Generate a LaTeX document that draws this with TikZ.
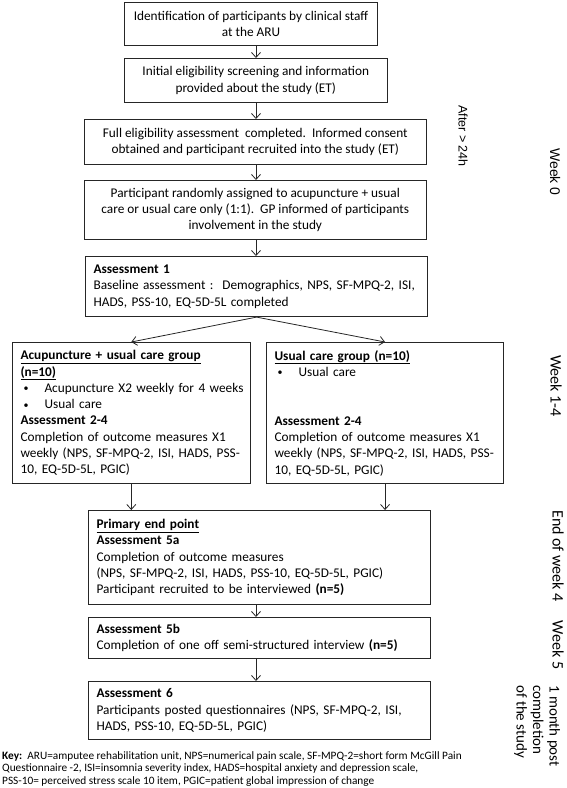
\documentclass[tikz,border=0pt]{standalone}
\usepackage{fontspec}
\setmainfont{Carlito}
\newfontfamily\arialf{Liberation Sans}
\usetikzlibrary{arrows.meta}
\newcommand\bul{\makebox[24pt][l]{\hspace{3pt}\raisebox{0.5pt}{\fontsize{10}{10}\selectfont •}}}
\begin{document}
\begin{tikzpicture}[x=1pt,y=-1pt,
  box/.style={draw=black!85, line width=1.1pt, inner xsep=8pt, inner ysep=2pt,
    anchor=north west, font=\fontsize{13.3}{16.3}\selectfont},
  cbox/.style={box, align=center},
  lbox/.style={box, align=left},
  arr/.style={-{Straight Barb[length=5pt,width=9pt]}, line width=0.8pt, black!85},
  side/.style={rotate=-90, font=\fontsize{16}{16.5}\selectfont, inner sep=0pt},
  sidea/.style={rotate=-90, font=\arialf\fontsize{14}{16}\selectfont, inner sep=0pt},
]
\useasboundingbox (0,0) rectangle (567,788);
\coordinate (cx) at (256,0);

\node[cbox, minimum width=253pt, minimum height=43pt] (b1) at (124,2)
  {Identification of participants by clinical staff\\at the ARU};
\node[cbox, minimum width=262.5pt, minimum height=44pt] (b2) at (124,58)
  {Initial eligibility screening and information\\provided about the study (ET)};
\node[cbox, minimum width=341.5pt, minimum height=45pt] (b3) at (84,119)
  {Full eligibility assessment\ \ completed.\ \ Informed consent\\obtained and participant recruited into the study (ET)};
\node[cbox, minimum width=341.5pt, minimum height=59pt] (b4) at (84,180)
  {Participant randomly assigned to acupuncture + usual\\care or usual care only (1:1).\ \ GP informed of participants\\involvement in the study};
\node[lbox, text width=326pt, minimum height=60pt] (b5) at (85,256)
  {\textbf{Assessment 1}\\\mbox{Baseline assessment :\ \ Demographics, NPS, SF-MPQ-2, ISI,}\\HADS, PSS-10, EQ-5D-5L completed};
\node[lbox, text width=221.5pt, minimum height=141pt] (gl) at (12,342)
  {\underline{\textbf{Acupuncture + usual care group}}\\
   \underline{\textbf{(n=10)}}\\
   \mbox{\bul Acupuncture X2 weekly for 4 weeks}\\
   \bul Usual care\\
   \textbf{Assessment 2-4}\\
   Completion of outcome measures X1\\
   \mbox{weekly (NPS, SF-MPQ-2, ISI, HADS, PSS-}\\
   10, EQ-5D-5L, PGIC)};
\node[lbox, text width=221pt, minimum height=141pt] (gr) at (266,342)
  {\underline{\textbf{Usual care group (n=10)}}\\
   \bul Usual care\\[32.6pt]
   \textbf{Assessment 2-4}\\
   Completion of outcome measures X1\\
   \mbox{weekly (NPS, SF-MPQ-2, ISI, HADS, PSS-}\\
   10, EQ-5D-5L, PGIC)};
\node[lbox, text width=326pt, minimum height=94pt] (p) at (88,510)
  {\underline{\textbf{Primary end point}}\\
   \textbf{Assessment 5a}\\
   Completion of outcome measures\\
   (NPS, SF-MPQ-2, ISI, HADS, PSS-10, EQ-5D-5L, PGIC)\\
   Participant recruited to be interviewed \textbf{(n=5)}};
\node[lbox, text width=326pt, minimum height=41pt] (q) at (88,617)
  {\textbf{Assessment 5b}\\
   Completion of one off semi-structured interview \textbf{(n=5)}};
\node[lbox, text width=326pt, minimum height=58pt] (r) at (88,681)
  {\textbf{Assessment 6}\\
   \mbox{Participants posted questionnaires (NPS, SF-MPQ-2, ISI,}\\
   HADS, PSS-10, EQ-5D-5L, PGIC)};

\node[anchor=north west, inner sep=0pt, align=left, font=\fontsize{11.3}{12.8}\selectfont] (key) at (2,751)
  {\textbf{Key:}\ \ ARU=amputee rehabilitation unit, NPS=numerical pain scale, SF-MPQ-2=short form McGill Pain\\
   Questionnaire -2, ISI=insomnia severity index, HADS=hospital anxiety and depression scale,\\
   PSS-10= perceived stress scale 10 item, PGIC=patient global impression of change};

\node[sidea, font=\arialf\fontsize{12.5}{14}\selectfont] (t1) at (463,136) {After > 24h};
\node[sidea] (t2) at (555,172) {Week 0};
\node[side] (t3) at (556,386) {Week 1-4};
\node[side] (t4) at (558,556) {End of week 4};
\node[side] (t5) at (558,645) {Week 5};
\node[side, font=\fontsize{15}{16.5}\selectfont, anchor=west, align=left] (t6) at (537,685) {1 month post\\completion\\of the study};

\draw[arr] (b1.south -| cx) -- (b2.north -| cx);
\draw[arr] (b2.south -| cx) -- (b3.north -| cx);
\draw[arr] (b3.south -| cx) -- (b4.north -| cx);
\draw[arr] (b4.south -| cx) -- (b5.north -| cx);
\draw[arr] (b5.south) -- (gl.north);
\draw[arr] (b5.south) -- (gr.north);
\draw[arr] (gl.south) -- (gl.south |- p.north);
\draw[arr] (gr.south) -- (gr.south |- p.north);
\draw[arr] (p.south -| cx) -- (q.north -| cx);
\draw[arr] (q.south -| cx) -- (r.north -| cx);
\end{tikzpicture}
\end{document}
